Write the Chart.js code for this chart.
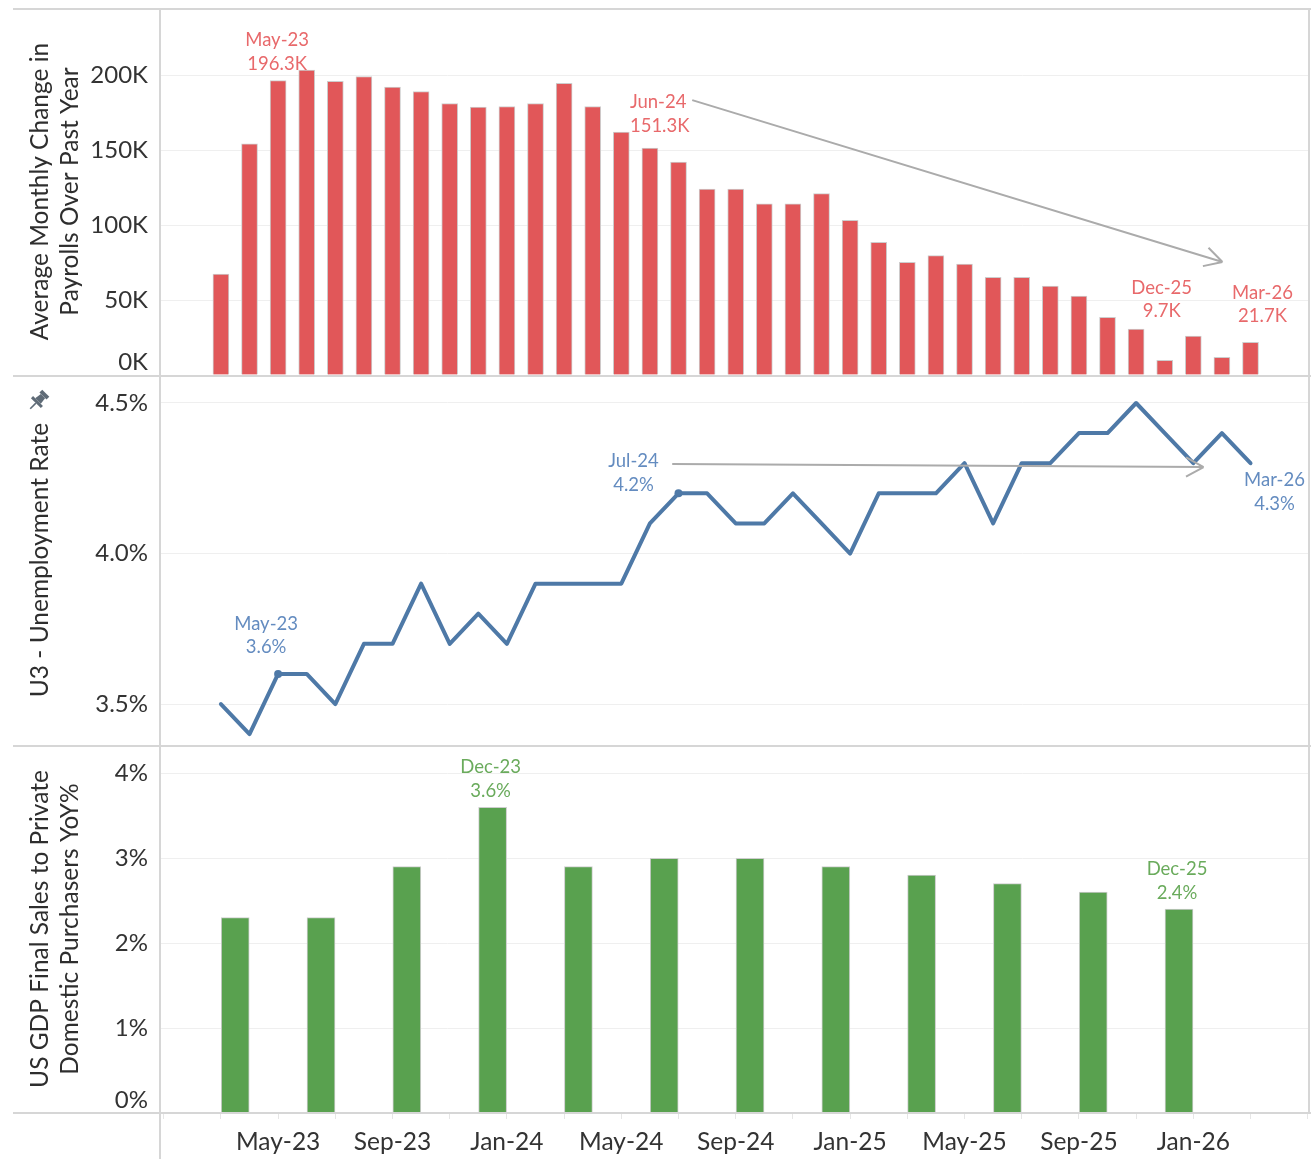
<!DOCTYPE html>
<html>
<head>
<meta charset="utf-8">
<script src="https://cdn.jsdelivr.net/npm/chart.js@4.4.1/dist/chart.umd.min.js"></script>
<style>
  body { margin: 0; background: #fff; }
  #wrap { position: relative; width: 1311px; height: 1159px; }
  .panel { position: absolute; left: 0; width: 1311px; }
</style>
</head>
<body>
<div id="wrap">
  <div class="panel" style="top:8px;height:367px"><canvas id="payrolls"></canvas></div>
  <div class="panel" style="top:375px;height:370px"><canvas id="unemp"></canvas></div>
  <div class="panel" style="top:745px;height:414px"><canvas id="gdp"></canvas></div>
</div>
<script>
// months shown on the shared date axis
const months = ['Mar-23','Apr-23','May-23','Jun-23','Jul-23','Aug-23','Sep-23','Oct-23','Nov-23','Dec-23',
  'Jan-24','Feb-24','Mar-24','Apr-24','May-24','Jun-24','Jul-24','Aug-24','Sep-24','Oct-24','Nov-24','Dec-24',
  'Jan-25','Feb-25','Mar-25','Apr-25','May-25','Jun-25','Jul-25','Aug-25','Sep-25','Oct-25','Nov-25','Dec-25',
  'Jan-26','Feb-26','Mar-26'];
const axisLabels = ['May-23','Sep-23','Jan-24','May-24','Sep-24','Jan-25','May-25','Sep-25','Jan-26'];

// avg monthly change in payrolls over past year (thousands)
const payrollsK = [67.3, 154.2, 196.3, 203.3, 195.8, 199.0, 192.0, 189.0, 181.0, 178.7,
  179.0, 181.0, 194.4, 179.0, 162.0, 151.3, 142.0, 124.0, 124.0, 114.2, 114.2, 120.9,
  103.1, 88.4, 75.1, 79.6, 74.0, 65.1, 65.1, 59.3, 52.7, 38.5, 30.7, 9.7,
  26.0, 11.8, 21.7];

// U3 unemployment rate (%)
const unempRate = [3.5, 3.4, 3.6, 3.6, 3.5, 3.7, 3.7, 3.9, 3.7, 3.8,
  3.7, 3.9, 3.9, 3.9, 3.9, 4.1, 4.2, 4.2, 4.1, 4.1, 4.2, 4.1,
  4.0, 4.2, 4.2, 4.2, 4.3, 4.1, 4.3, 4.3, 4.4, 4.4, 4.5, 4.4,
  4.3, 4.4, 4.3];

// GDP final sales to private domestic purchasers, YoY % (quarterly)
const gdpQuarters = ['Mar-23','Jun-23','Sep-23','Dec-23','Mar-24','Jun-24','Sep-24','Dec-24','Mar-25','Jun-25','Sep-25','Dec-25'];
const gdpYoY = [2.3, 2.3, 2.9, 3.6, 2.9, 3.0, 3.0, 2.9, 2.8, 2.7, 2.6, 2.4];

const payrollTicks = [0, 50, 100, 150, 200];
const unempTicks = [3.5, 4.0, 4.5];
const gdpTicks = [0, 1, 2, 3, 4];

const X_MIN = -2.13, X_MAX = 38.08;
const FONT = 'Lato';
const RED = '#e15759', BLUE = '#4e79a7', GREEN = '#59a14f';

// lines round each panel
const framePlugin = {
  id: 'frame',
  afterDatasetsDraw(chart, args, opts) {
    const { ctx, chartArea: a, width, height } = chart;
    ctx.save();
    ctx.strokeStyle = '#d6d6d6';
    ctx.lineWidth = 2;
    ctx.beginPath();
    ctx.moveTo(13, 1); ctx.lineTo(width, 1);
    ctx.moveTo(a.left, 0); ctx.lineTo(a.left, height);
    ctx.moveTo(a.right - 1, 0); ctx.lineTo(a.right - 1, a.bottom);
    if (opts.bottom) { ctx.moveTo(13, a.bottom); ctx.lineTo(width, a.bottom); }
    ctx.stroke();
    if (opts.pin) {
      // pushpin next to the axis title
      ctx.translate(opts.pin[0], opts.pin[1]);
      ctx.rotate(Math.PI / 4);
      ctx.fillStyle = '#5f6b77';
      ctx.fillRect(-5, -11, 10, 4);
      ctx.beginPath();
      ctx.moveTo(-3, -7); ctx.lineTo(3, -7); ctx.lineTo(4, 0); ctx.lineTo(-4, 0);
      ctx.closePath(); ctx.fill();
      ctx.fillRect(-7, 0, 14, 3);
      ctx.fillRect(-0.8, 3, 1.6, 8);
    }
    ctx.restore();
  }
};

// y tick labels (the bottom one sits just above the panel edge)
const yLabelPlugin = {
  id: 'yLabels',
  afterDraw(chart, args, opts) {
    const { ctx, chartArea, scales: { y } } = chart;
    ctx.save();
    ctx.font = '24px ' + FONT;
    ctx.fillStyle = '#333';
    ctx.textAlign = 'right';
    ctx.textBaseline = 'middle';
    opts.values.forEach(v => {
      const py = Math.min(y.getPixelForValue(v), chartArea.bottom - 13);
      ctx.fillText(opts.format(v), 148, py);
    });
    ctx.restore();
  }
};

// point labels and trend arrows
const notePlugin = {
  id: 'notes',
  afterDatasetsDraw(chart, args, opts) {
    const { ctx, scales } = chart;
    const pts = chart.getDatasetMeta(0).data;
    ctx.save();
    if (opts.arrow) {
      const [fx, fy] = opts.arrow.from, [tx, ty] = opts.arrow.to;
      const x1 = scales.x.getPixelForValue(fx), y1 = scales.y.getPixelForValue(fy);
      const x2 = scales.x.getPixelForValue(tx), y2 = scales.y.getPixelForValue(ty);
      const ang = Math.atan2(y2 - y1, x2 - x1);
      ctx.strokeStyle = '#ababab';
      ctx.lineWidth = 2;
      ctx.beginPath();
      ctx.moveTo(x1, y1); ctx.lineTo(x2, y2);
      [0.5, -0.5].forEach(d => {
        ctx.moveTo(x2, y2);
        ctx.lineTo(x2 - 20 * Math.cos(ang + d), y2 - 20 * Math.sin(ang + d));
      });
      ctx.stroke();
    }
    ctx.font = '18.5px ' + FONT;
    ctx.textBaseline = 'middle';
    (opts.items || []).forEach(n => {
      const el = pts[n.index];
      ctx.fillStyle = n.color;
      ctx.textAlign = n.align || 'center';
      n.lines.forEach((t, k) => ctx.fillText(t, el.x + n.dx, el.y + n.dy + k * 23.5));
    });
    ctx.restore();
  }
};

function xScale(show) {
  return {
    type: 'linear', min: X_MIN, max: X_MAX, display: show, offset: false,
    afterBuildTicks: s => {
      const t = [];
      for (let v = -2; v <= 38; v += 2) t.push({ value: v });
      s.ticks = t;
    },
    ticks: {
      autoSkip: false, maxRotation: 0, padding: 8, color: '#333',
      font: { family: FONT, size: 24.5 },
      callback: v => axisLabels.includes(months[v]) ? months[v] : ''
    },
    grid: { offset: false, drawOnChartArea: false, drawTicks: true, tickLength: 6, color: '#e6e6e6' },
    border: { display: false },
    afterFit: s => {
      s.paddingLeft = 0;
      s.paddingRight = 0;
      if (show) s.height = 46;
    }
  };
}

function yScale(min, max, ticks, title) {
  return {
    min: min, max: max,
    afterBuildTicks: s => { s.ticks = ticks.map(v => ({ value: v })); },
    ticks: { display: false },
    grid: { color: '#efefef', lineWidth: 1, drawTicks: false },
    border: { display: false },
    title: {
      display: true, text: title, color: '#2e2e2e',
      font: { family: FONT, size: 24.5, lineHeight: 1.22 },
      padding: { top: 25, bottom: 0 }
    },
    afterFit: s => { s.width = 160; }
  };
}

function makeChart(id, cfg) {
  return new Chart(document.getElementById(id), {
    type: cfg.type,
    data: { datasets: [cfg.dataset] },
    options: {
      responsive: true,
      maintainAspectRatio: false,
      animation: false,
      layout: { padding: { left: 0, right: 1, top: 0, bottom: 0 } },
      scales: { x: xScale(cfg.showX), y: cfg.y },
      plugins: {
        legend: { display: false },
        tooltip: { enabled: false },
        frame: { bottom: cfg.showX, pin: cfg.pin },
        yLabels: { values: cfg.ticks, format: cfg.fmt },
        notes: { items: cfg.notes, arrow: cfg.arrow }
      }
    },
    plugins: [framePlugin, yLabelPlugin, notePlugin]
  });
}

function build() {
  const redText = '#e8696b', blueText = '#648cc0', greenText = '#6aab5c';

  makeChart('payrolls', {
    type: 'bar', showX: false,
    dataset: {
      data: payrollsK.map((v, i) => ({ x: i, y: v })),
      backgroundColor: RED, borderColor: '#cdcdcd', borderWidth: 1, barThickness: 16
    },
    y: yScale(0, 244.7, payrollTicks, ['Average Monthly Change in', 'Payrolls Over Past Year']),
    ticks: payrollTicks, fmt: v => v + 'K',
    notes: [
      { index: 2, dx: -1, dy: -40.5, color: redText },
      { index: 15, dx: -20, dy: -46, color: redText, align: 'left' },
      { index: 33, dx: -3, dy: -72.5, color: redText },
      { index: 36, dx: 12, dy: -49.5, color: redText }
    ].map(n => ({ ...n, lines: [months[n.index], payrollsK[n.index].toFixed(1) + 'K'] })),
    arrow: { from: [16.48, 183.3], to: [35.02, 75.3] }
  });

  const markIdx = [2, 16];
  makeChart('unemp', {
    type: 'line', showX: false, pin: [38, 26],
    dataset: {
      data: unempRate.map((v, i) => ({ x: i, y: v })),
      borderColor: BLUE, backgroundColor: BLUE, borderWidth: 4, tension: 0,
      borderJoinStyle: 'round', borderCapStyle: 'round',
      pointRadius: c => markIdx.includes(c.dataIndex) ? 4 : 0, pointBorderWidth: 0
    },
    y: yScale(3.364, 4.593, unempTicks, 'U3 - Unemployment Rate'),
    ticks: unempTicks, fmt: v => v.toFixed(1) + '%',
    notes: [
      { index: 2, dx: -12, dy: -50, color: blueText },
      { index: 16, dx: -45, dy: -32, color: blueText },
      { index: 36, dx: 24, dy: 17, color: blueText }
    ].map(n => ({ ...n, lines: [months[n.index], unempRate[n.index].toFixed(1) + '%'] })),
    arrow: { from: [15.78, 4.297], to: [34.36, 4.287] }
  });

  makeChart('gdp', {
    type: 'bar', showX: true,
    dataset: {
      data: gdpYoY.map((v, i) => ({ x: months.indexOf(gdpQuarters[i]) + 0.5, y: v })),
      backgroundColor: GREEN, borderColor: '#cdcdcd', borderWidth: 1, barThickness: 28
    },
    y: yScale(0, 4.333, gdpTicks, ['US GDP Final Sales to Private', 'Domestic Purchasers YoY%']),
    ticks: gdpTicks, fmt: v => v + '%',
    notes: [
      { index: 3, dx: -2, dy: -40, color: greenText },
      { index: 11, dx: -2, dy: -40, color: greenText }
    ].map(n => ({ ...n, lines: [gdpQuarters[n.index], gdpYoY[n.index].toFixed(1) + '%'] }))
  });
}

document.fonts.load('22px Lato').then(build, build);
</script>
</body>
</html>
